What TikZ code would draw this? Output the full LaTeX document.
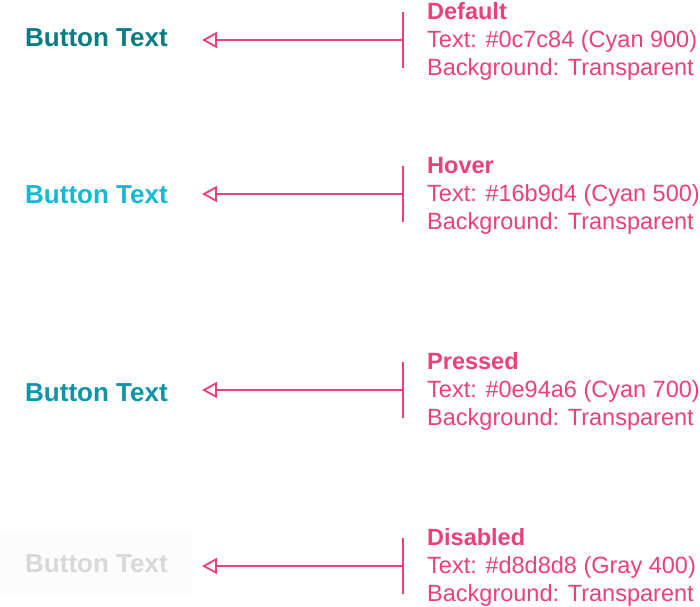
\documentclass[tikz,border=0pt]{standalone}
\usepackage{fontspec}
\setmainfont{Liberation Sans}
\usetikzlibrary{arrows.meta}
\definecolor{pinkc}{HTML}{EC407A}
\definecolor{cyanA}{HTML}{0C7C84}
\definecolor{cyanB}{HTML}{16B9D4}
\definecolor{cyanC}{HTML}{0E94A6}
\definecolor{grayD}{HTML}{D8D8D8}
\definecolor{boxbg}{HTML}{FCFCFC}
\tikzset{
  btn/.style={anchor=base west, inner sep=0pt, font=\fontsize{26}{30}\selectfont\bfseries},
  lbl/.style={anchor=base west, inner sep=0pt, text=pinkc, font=\fontsize{23.5}{28}\selectfont},
  lblb/.style={lbl, font=\fontsize{23.5}{28}\selectfont\bfseries},
  barline/.style={draw=pinkc, line width=1.6pt},
  pointer/.style={draw=pinkc, line width=1.6pt, -{Triangle[open, length=15pt, width=16pt, fill=white, line width=1.8pt]}},
}
\begin{document}
\begin{tikzpicture}[x=1pt,y=-1pt]
\useasboundingbox (0,0) rectangle (700,606);
\fill[white] (0,0) rectangle (700,606);
% disabled background box
\fill[boxbg, rounded corners=4pt] (-5,530) rectangle (192,596);

% Row 1
\node[btn, text=cyanA] (t1) at (25,46.5) {Button Text};
\coordinate (bt1) at (403,12); \coordinate (bb1) at (403,68);
\coordinate (m1) at (403,40); \coordinate (p1) at (202,40);
\draw[barline] (bt1) -- (bb1);
\draw[pointer] (m1) -- (p1);
\node[lblb] (h1) at (427,19) {Default};
\node[lbl] (a1) at (427,47) {Text: \#0c7c84 (Cyan 900)};
\node[lbl] (c1) at (427,75) {Background: Transparent};

% Row 2
\node[btn, text=cyanB] (t2) at (25,203.5) {Button Text};
\coordinate (bt2) at (403,166); \coordinate (bb2) at (403,222);
\coordinate (m2) at (403,194); \coordinate (p2) at (202,194);
\draw[barline] (bt2) -- (bb2);
\draw[pointer] (m2) -- (p2);
\node[lblb] (h2) at (427,173) {Hover};
\node[lbl] (a2) at (427,201) {Text: \#16b9d4 (Cyan 500)};
\node[lbl] (c2) at (427,229) {Background: Transparent};

% Row 3
\node[btn, text=cyanC] (t3) at (25,401.5) {Button Text};
\coordinate (bt3) at (403,362); \coordinate (bb3) at (403,418);
\coordinate (m3) at (403,390); \coordinate (p3) at (202,390);
\draw[barline] (bt3) -- (bb3);
\draw[pointer] (m3) -- (p3);
\node[lblb] (h3) at (427,369) {Pressed};
\node[lbl] (a3) at (427,397) {Text: \#0e94a6 (Cyan 700)};
\node[lbl] (c3) at (427,425) {Background: Transparent};

% Row 4
\node[btn, text=grayD] (t4) at (25,572.5) {Button Text};
\coordinate (bt4) at (403,538); \coordinate (bb4) at (403,594);
\coordinate (m4) at (403,566); \coordinate (p4) at (202,566);
\draw[barline] (bt4) -- (bb4);
\draw[pointer] (m4) -- (p4);
\node[lblb] (h4) at (427,545) {Disabled};
\node[lbl] (a4) at (427,573) {Text: \#d8d8d8 (Gray 400)};
\node[lbl] (c4) at (427,601) {Background: Transparent};
\end{tikzpicture}
\end{document}
